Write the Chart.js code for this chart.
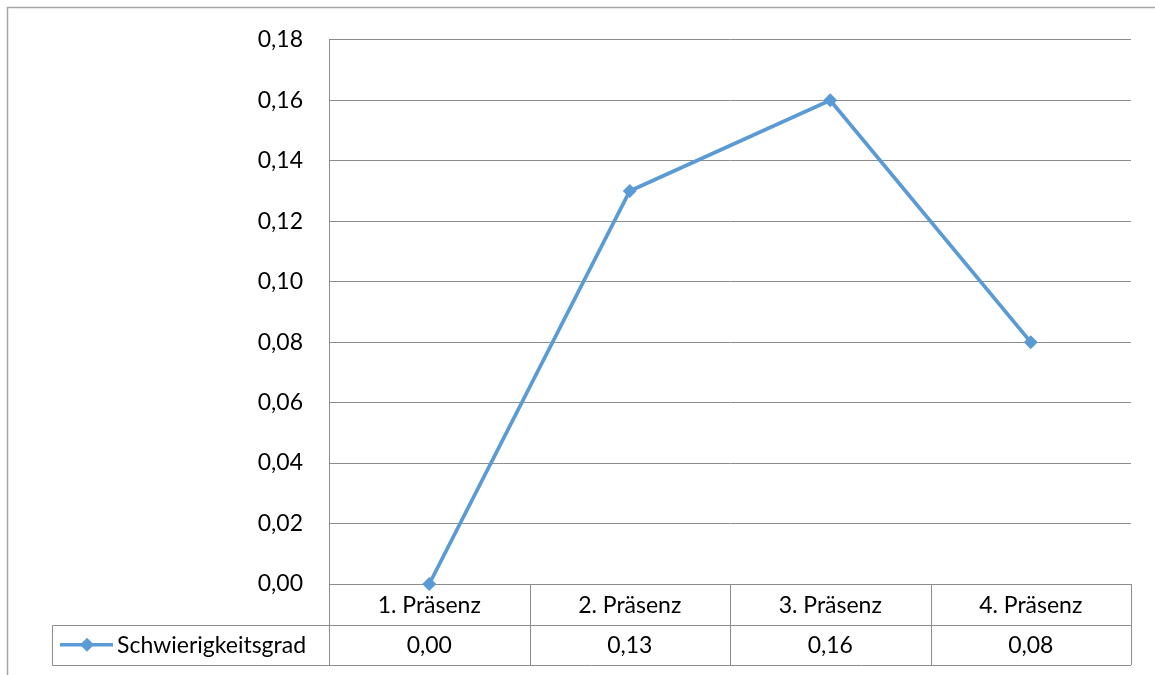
<!DOCTYPE html>
<html>
<head>
<meta charset="utf-8">
<script src="https://cdn.jsdelivr.net/npm/chart.js@4"></script>
<style>
  html, body { margin: 0; padding: 0; background: #fff; }
  #wrap { width: 1155px; height: 675px; }
</style>
</head>
<body>
<div id="wrap"><canvas id="chart" width="1155" height="675"></canvas></div>
<script>
// categories along the x axis
const categories = ["1. Präsenz", "2. Präsenz", "3. Präsenz", "4. Präsenz"];
// series values
const seriesName = "Schwierigkeitsgrad";
const seriesValues = [0.00, 0.13, 0.16, 0.08];
// y axis range
const yMin = 0;
const yMax = 0.18;
const yStep = 0.02;

const FONT = "Lato, 'Open Sans', sans-serif";
const FONT_SIZE = 23;
const LINE_COLOR = "#5b9bd5";
const GRID_COLOR = "#8c8c8c";

// German decimal comma
const fmt = (v) => v.toFixed(2).replace(".", ",");

/* data table drawn under the plot, like Excel */
const dataTable = {
  id: "dataTable",
  beforeDraw(chart) {
    const ctx = chart.ctx;
    ctx.save();
    ctx.fillStyle = "#fff";
    ctx.fillRect(0, 0, chart.width, chart.height);
    // outer chart border (only top/left visible)
    ctx.strokeStyle = "#a6a6a6";
    ctx.lineWidth = 1.5;
    ctx.strokeRect(7.5, 7.5, chart.width + 20, chart.height + 20);
    ctx.restore();
  },
  afterDraw(chart) {
    const ctx = chart.ctx;
    const x = chart.scales.x;
    const area = chart.chartArea;
    const rowH = 40.5;
    const top = area.bottom;
    const mid = top + rowH;
    const bot = top + rowH * 2;
    const half = (x.getPixelForValue(1) - x.getPixelForValue(0)) / 2;
    const legLeft = 52.5;

    ctx.save();
    ctx.strokeStyle = GRID_COLOR;
    ctx.lineWidth = 1;
    ctx.beginPath();
    // horizontal rules
    ctx.moveTo(area.left, Math.round(mid) + 0.5);
    ctx.lineTo(area.right, Math.round(mid) + 0.5);
    ctx.moveTo(legLeft, Math.round(mid) + 0.5);
    ctx.lineTo(area.left, Math.round(mid) + 0.5);
    ctx.moveTo(legLeft, Math.round(bot) + 0.5);
    ctx.lineTo(area.right, Math.round(bot) + 0.5);
    // vertical rules at category boundaries
    categories.forEach((c, i) => {
      const px = Math.round(x.getPixelForValue(i) - half) + 0.5;
      ctx.moveTo(px, top);
      ctx.lineTo(px, bot);
    });
    const rx = Math.round(x.getPixelForValue(categories.length - 1) + half) + 0.5;
    ctx.moveTo(rx, top);
    ctx.lineTo(rx, bot);
    ctx.moveTo(legLeft, Math.round(mid) + 0.5);
    ctx.lineTo(legLeft, Math.round(bot) + 0.5);
    ctx.stroke();

    // texts
    ctx.fillStyle = "#000";
    ctx.font = FONT_SIZE + "px " + FONT;
    ctx.textAlign = "center";
    ctx.textBaseline = "middle";
    categories.forEach((c, i) => {
      const px = x.getPixelForValue(i);
      ctx.fillText(c, px, top + rowH / 2 + 1);
      ctx.fillText(fmt(seriesValues[i]), px, mid + rowH / 2 + 1);
    });

    // legend key
    const ky = mid + rowH / 2;
    ctx.strokeStyle = LINE_COLOR;
    ctx.lineWidth = 3.5;
    ctx.beginPath();
    ctx.moveTo(60, ky);
    ctx.lineTo(113, ky);
    ctx.stroke();
    ctx.fillStyle = LINE_COLOR;
    ctx.beginPath();
    ctx.moveTo(87, ky - 7);
    ctx.lineTo(94, ky);
    ctx.lineTo(87, ky + 7);
    ctx.lineTo(80, ky);
    ctx.closePath();
    ctx.fill();
    ctx.fillStyle = "#000";
    ctx.textAlign = "left";
    ctx.fillText(seriesName, 117, ky + 1);
    ctx.restore();
  },
};

new Chart(document.getElementById("chart"), {
  type: "line",
  data: {
    labels: categories,
    datasets: [
      {
        label: seriesName,
        data: seriesValues,
        borderColor: LINE_COLOR,
        backgroundColor: LINE_COLOR,
        borderWidth: 3.75,
        pointStyle: "rectRot",
        pointRadius: 7,
        pointBorderWidth: 0,
        tension: 0,
        clip: false,
      },
    ],
  },
  options: {
    responsive: false,
    animation: false,
    layout: { padding: { top: 24, right: 24, left: 0, bottom: 0 } },
    plugins: {
      legend: { display: false },
      tooltip: { enabled: false },
    },
    scales: {
      x: {
        type: "category",
        offset: true,
        grid: { display: false },
        border: { display: false },
        ticks: { display: false },
        afterFit(scale) { scale.height = 91; },
      },
      y: {
        min: yMin,
        max: yMax,
        grid: { color: GRID_COLOR, drawTicks: false, lineWidth: 1 },
        border: { display: true, color: GRID_COLOR, width: 1 },
        ticks: {
          stepSize: yStep,
          padding: 26,
          color: "#000",
          font: { family: FONT, size: FONT_SIZE },
          callback: (v) => fmt(v),
        },
        afterFit(scale) { scale.width = 329; },
      },
    },
  },
  plugins: [dataTable],
});
</script>
</body>
</html>
